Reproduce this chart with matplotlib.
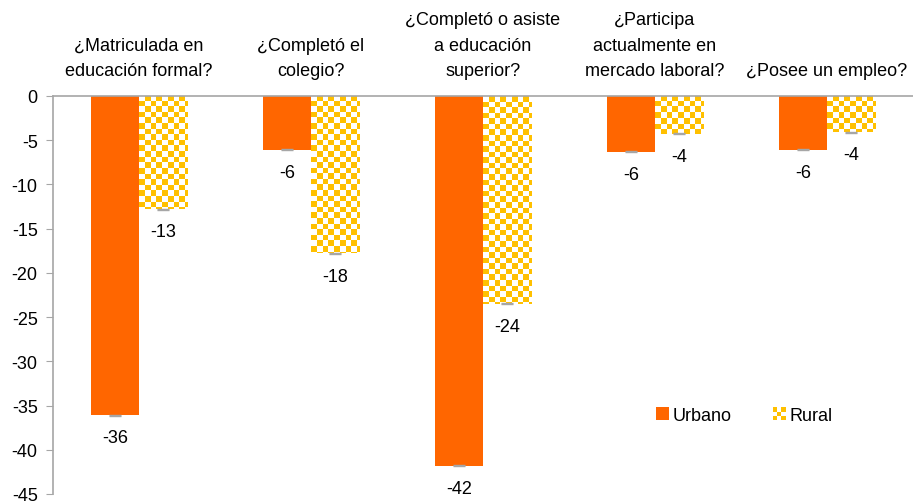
import numpy as np
import matplotlib
matplotlib.use('Agg')
import matplotlib.pyplot as plt
from matplotlib.colors import ListedColormap
from matplotlib.patches import Rectangle
from matplotlib.legend_handler import HandlerBase

categorias = ['¿Matriculada en\neducación formal?', '¿Completó el\ncolegio?',
              '¿Completó o asiste\na educación\nsuperior?',
              '¿Participa\nactualmente en\nmercado laboral?', '¿Posee un empleo?']
urbano = [-36.1, -6.1, -41.8, -6.3, -6.1]
rural = [-12.8, -17.8, -23.5, -4.3, -4.1]
yticks = [0, -5, -10, -15, -20, -25, -30, -35, -40, -45]

naranja = '#FF6600'
dorado = '#FFC000'
gris = '#A6A6A6'

plt.rcParams['font.family'] = ['Liberation Sans', 'DejaVu Sans']

fig = plt.figure(figsize=(9.13, 5.02), dpi=100)
ax = fig.add_axes([0.058, 0.014, 0.942, 0.793])

x = np.arange(len(categorias))
w = 0.28

# barras urbano
ax.bar(x - w / 2, urbano, w, color=naranja, zorder=2)
ax.errorbar(x - w / 2, urbano, yerr=0.05, fmt='none', ecolor=gris, capsize=4, lw=1, zorder=3)

# barras rural con patron de cuadros
cmap = ListedColormap(['white', dorado])
cx, cy = 0.033, 0.63
barras = ax.bar(x + w / 2, rural, w, color='none', zorder=2)
for b, v in zip(barras, rural):
    x0 = b.get_x()
    nx = int(np.ceil(w / cx))
    ny = int(np.ceil(-v / cy))
    tablero = (np.add.outer(np.arange(ny), np.arange(nx)) % 2).astype(float)
    im = ax.imshow(tablero, cmap=cmap, interpolation='nearest', aspect='auto',
                   extent=[x0, x0 + nx * cx, -ny * cy, 0], origin='upper', zorder=2)
    im.set_clip_path(b)
ax.errorbar(x + w / 2, rural, yerr=0.05, fmt='none', ecolor=gris, capsize=4, lw=1, zorder=3)

# etiquetas de valores
for i in range(len(categorias)):
    ax.text(x[i] - w / 2, urbano[i] - 1.6, f'{urbano[i]:.0f}', ha='center', va='top', fontsize=13)
    ax.text(x[i] + w / 2, rural[i] - 1.6, f'{rural[i]:.0f}', ha='center', va='top', fontsize=13)

ax.set_xlim(-0.5, len(categorias) - 0.5)
ax.set_ylim(-45, 0)
ax.set_yticks(yticks)
ax.set_yticklabels([str(t) for t in yticks], fontsize=13)
ax.xaxis.tick_top()
ax.set_xticks(x)
ax.set_xticklabels(categorias, fontsize=13, linespacing=1.65)
ax.tick_params(axis='x', length=0, pad=12)
ax.tick_params(axis='y', length=5, color=gris, pad=6, direction='out')

for s in ['right', 'bottom']:
    ax.spines[s].set_visible(False)
for s in ['top', 'left']:
    ax.spines[s].set_color(gris)
    ax.spines[s].set_linewidth(1.2)
ax.spines['top'].set_zorder(4)


class HandlerTablero(HandlerBase):
    def create_artists(self, legend, orig_handle, xdescent, ydescent, width, height, fontsize, trans):
        s = height / 3
        arts = []
        x0 = width - height
        for i in range(3):
            for j in range(3):
                if (i + j) % 2 == 0:
                    arts.append(Rectangle((x0 + j * s - xdescent, (2 - i) * s - ydescent), s, s,
                                          facecolor=dorado, edgecolor='none', transform=trans))
        return arts


h1 = Rectangle((0, 0), 1, 1, facecolor=naranja)
h2 = Rectangle((0, 0), 1, 1, facecolor=dorado)
ax.legend([h1, h2], ['Urbano', 'Rural'], handler_map={h2: HandlerTablero()},
          loc='lower right', bbox_to_anchor=(0.925, 0.135), ncol=2, frameon=False,
          fontsize=13, handlelength=0.7, handleheight=0.7, handletextpad=0.2, columnspacing=2.3)

plt.savefig('out.png', dpi=100)
